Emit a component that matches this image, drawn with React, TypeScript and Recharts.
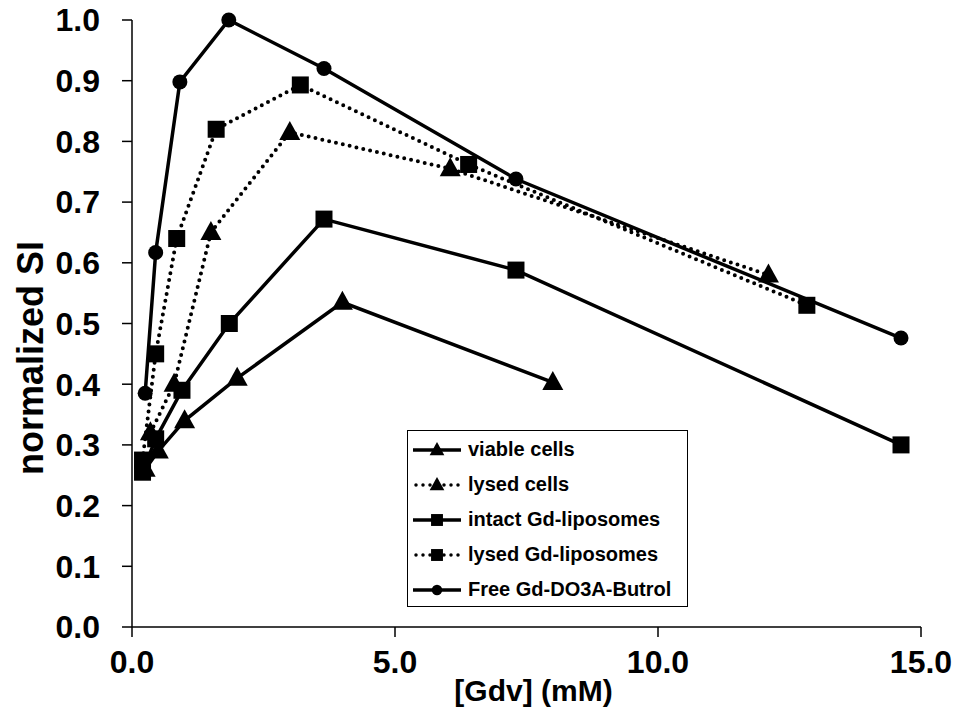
import { LineChart, Line, XAxis, YAxis } from "recharts";

const xTicks = [0, 5, 10, 15];
const yTicks = [0, 0.1, 0.2, 0.3, 0.4, 0.5, 0.6, 0.7, 0.8, 0.9, 1.0];

const viableCells = [
  { x: 0.25, y: 0.26 },
  { x: 0.5, y: 0.29 },
  { x: 1.0, y: 0.34 },
  { x: 2.0, y: 0.41 },
  { x: 4.0, y: 0.535 },
  { x: 8.0, y: 0.403 },
];

const lysedCells = [
  { x: 0.35, y: 0.32 },
  { x: 0.8, y: 0.4 },
  { x: 1.5, y: 0.65 },
  { x: 3.0, y: 0.815 },
  { x: 6.05, y: 0.755 },
  { x: 12.1, y: 0.58 },
];

const intactLiposomes = [
  { x: 0.2, y: 0.255 },
  { x: 0.45, y: 0.31 },
  { x: 0.95, y: 0.39 },
  { x: 1.85, y: 0.5 },
  { x: 3.65, y: 0.672 },
  { x: 7.3, y: 0.588 },
  { x: 14.62, y: 0.3 },
];

const lysedLiposomes = [
  { x: 0.2, y: 0.275 },
  { x: 0.45, y: 0.45 },
  { x: 0.85, y: 0.64 },
  { x: 1.6, y: 0.82 },
  { x: 3.2, y: 0.893 },
  { x: 6.4, y: 0.762 },
  { x: 12.83, y: 0.53 },
];

const freeGd = [
  { x: 0.25, y: 0.385 },
  { x: 0.45, y: 0.617 },
  { x: 0.91, y: 0.898 },
  { x: 1.84, y: 1.0 },
  { x: 3.65, y: 0.92 },
  { x: 7.3, y: 0.738 },
  { x: 14.62, y: 0.476 },
];

const FONT = "'Liberation Sans', Arial, sans-serif";

type Shape = "triangle" | "square" | "circle";

function marker(shape: Shape, cx: number, cy: number, key?: string | number, s = 1) {
  if (shape === "triangle") {
    const w = 10.5 * s;
    const h = 19 * s;
    return (
      <polygon key={key} points={`${cx},${cy - h * 0.6} ${cx + w},${cy + h * 0.4} ${cx - w},${cy + h * 0.4}`} fill="#000" />
    );
  }
  if (shape === "square") {
    const r = 8.5 * s;
    return <rect key={key} x={cx - r} y={cy - r} width={r * 2} height={r * 2} fill="#000" />;
  }
  return <circle key={key} cx={cx} cy={cy} r={7.5 * s} fill="#000" />;
}

const dotFor = (shape: Shape) => (props: any) => {
  const { cx, cy, index } = props;
  if (cx == null || cy == null) return <g key={index} />;
  return marker(shape, cx, cy, index);
};

const series = [
  { name: "viable cells", data: viableCells, shape: "triangle" as Shape, dotted: false },
  { name: "lysed cells", data: lysedCells, shape: "triangle" as Shape, dotted: true },
  { name: "intact Gd-liposomes", data: intactLiposomes, shape: "square" as Shape, dotted: false },
  { name: "lysed Gd-liposomes", data: lysedLiposomes, shape: "square" as Shape, dotted: true },
  { name: "Free Gd-DO3A-Butrol", data: freeGd, shape: "circle" as Shape, dotted: false },
];

// legend box drawn outside recharts so it doesn't eat into the plot area
function BoxLegend() {
  return (
    <div
      style={{
        position: "absolute",
        left: 407,
        top: 430,
        border: "1.5px solid #000",
        background: "#fff",
        width: 281,
        height: 177,
        boxSizing: "border-box",
        paddingTop: 1,
        fontFamily: FONT,
      }}
    >
      {series.map((s) => (
        <div key={s.name} style={{ display: "flex", alignItems: "center", height: 35 }}>
          <svg width={60} height={30} style={{ flex: "none" }}>
            {s.dotted ? (
              <line x1={8} y1={15} x2={54} y2={15} stroke="#000" strokeWidth={3.5} strokeDasharray="0 7" strokeLinecap="round" />
            ) : (
              <line x1={5} y1={15} x2={53} y2={15} stroke="#000" strokeWidth={3.5} />
            )}
            {marker(s.shape, 29, 15, undefined, 0.7)}
          </svg>
          <span style={{ fontSize: 20, fontWeight: "bold", color: "#000", whiteSpace: "nowrap" }}>{s.name}</span>
        </div>
      ))}
    </div>
  );
}

const YTitle = () => {
  const cx = 43;
  const cy = 358;
  return (
    <text
      x={cx}
      y={cy}
      transform={`rotate(-90 ${cx} ${cy})`}
      textAnchor="middle"
      fontFamily={FONT}
      fontWeight="bold"
      fontSize={36}
      fill="#000"
    >
      normalized SI
    </text>
  );
};

const XTitle = (props: any) => {
  const { viewBox } = props;
  const cx = viewBox.x + viewBox.width / 2 + 7;
  return (
    <text x={cx} y={690} textAnchor="middle" dominantBaseline="central" fontFamily={FONT} fontWeight="bold" fontSize={30} fill="#000">
      [Gdv] (mM)
    </text>
  );
};

export default function App() {
  return (
    <div style={{ position: "absolute", left: 0, top: 0, width: 956, height: 712, background: "#fff" }}>
      <LineChart width={956} height={712} margin={{ top: 20, right: 35, bottom: 25, left: 22 }}>
        <XAxis
          type="number"
          dataKey="x"
          domain={[0, 15]}
          ticks={xTicks}
          tickFormatter={(v: number) => v.toFixed(1)}
          height={60}
          tickSize={10}
          stroke="#000"
          strokeWidth={1.5}
          tick={{ fill: "#000", fontSize: 32, fontWeight: "bold", fontFamily: FONT, dy: 11 }}
          label={{ content: XTitle }}
        />
        <YAxis
          type="number"
          dataKey="y"
          domain={[0, 1]}
          ticks={yTicks}
          tickFormatter={(v: number) => v.toFixed(1)}
          width={110}
          tickSize={10}
          tickMargin={22}
          stroke="#000"
          strokeWidth={1.5}
          interval={0}
          tick={{ fill: "#000", fontSize: 32, fontWeight: "bold", fontFamily: FONT }}
          label={{ content: YTitle }}
        />
        {series.map((s) => (
          <Line
            key={s.name}
            name={s.name}
            data={s.data}
            dataKey="y"
            type="linear"
            stroke="#000"
            strokeWidth={s.dotted ? 4 : 3.5}
            strokeDasharray={s.dotted ? "0 7" : undefined}
            strokeLinecap={s.dotted ? "round" : "butt"}
            dot={dotFor(s.shape)}
            activeDot={false}
            isAnimationActive={false}
          />
        ))}
      </LineChart>
      <BoxLegend />
    </div>
  );
}
